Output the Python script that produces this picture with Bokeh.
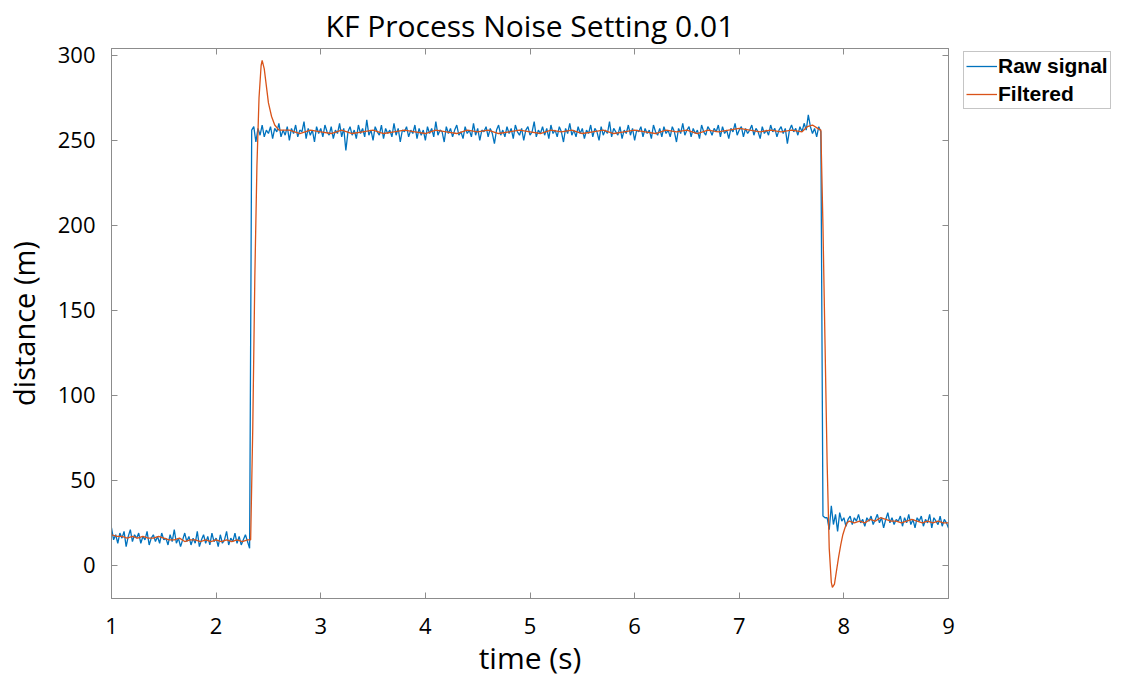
import numpy as np
from bokeh.plotting import figure
from bokeh.models import Range1d, LinearAxis, Legend, LegendItem, FixedTicker
from bokeh.embed import file_html
from bokeh.resources import INLINE

# ---- data ----
title_text = "KF Process Noise Setting 0.01"
x_ticks = [1, 2, 3, 4, 5, 6, 7, 8, 9]
y_ticks = [0, 50, 100, 150, 200, 250, 300]

# raw signal, three segments (low / high / low)
raw_seg1_span = (1.00, 2.32)
raw_seg1 = [22, 15, 18, 13, 19, 16, 20, 11, 17, 21,
            14, 18, 16, 19, 13, 17, 15, 20, 12, 16,
            18, 14, 17, 13, 19, 15, 16, 12, 18, 14,
            21, 13, 16, 11, 15, 19, 14, 17, 12, 16,
            13, 20, 11, 15, 18, 13, 17, 12, 19, 14,
            16, 11, 18, 13, 15, 20, 12, 16, 14, 19,
            13, 17, 12, 15, 18, 14, 10]

raw_seg2_span = (2.34, 7.78)
raw_seg2 = [256, 258, 249, 257, 253, 259, 252, 256, 254, 258, 251, 257, 255, 260, 252, 256, 253, 258, 250, 257,
            254, 259, 252, 256, 255, 261, 251, 257, 253, 256, 249, 258, 254, 257, 252, 259, 255, 253, 258, 251,
            256, 254, 260, 252, 257, 244, 255, 258, 253, 256, 251, 259, 254, 257, 252, 262, 253, 256, 250, 258,
            255, 253, 259, 251, 257, 254, 256, 252, 260, 253, 257, 249, 256, 255, 258, 252, 256, 254, 259, 251,
            257, 253, 256, 250, 258, 254, 257, 252, 261, 253, 256, 255, 249, 258, 254, 257, 252, 256, 259, 253,
            255, 251, 258, 254, 256, 252, 260, 253, 257, 250, 256, 255, 258, 252, 257, 254, 248, 256, 259, 253,
            256, 252, 258, 254, 257, 251, 259, 255, 253, 257, 250, 256, 258, 253, 255, 261, 252, 256, 254, 258,
            253, 257, 251, 259, 254, 256, 252, 258, 255, 249, 257, 254, 260, 253, 256, 252, 258, 254, 257, 251,
            256, 254, 259, 252, 257, 255, 250, 258, 253, 256, 254, 261, 252, 257, 255, 253, 258, 251, 256, 254,
            259, 253, 257, 250, 256, 255, 258, 252, 257, 254, 256, 251, 259, 255, 253, 257, 252, 258, 254, 256,
            252, 258, 255, 249, 257, 254, 260, 253, 256, 258, 252, 257, 254, 256, 251, 259, 255, 253, 258, 256,
            253, 257, 255, 259, 252, 258, 254, 256, 251, 257, 255, 260, 253, 256, 258, 252, 257, 254, 256, 259,
            253, 257, 255, 251, 258, 254, 256, 253, 259, 255, 257, 252, 256, 258, 254, 257, 248, 256, 259, 255,
            257, 253, 258, 255, 260, 256, 265, 258, 254, 257, 252, 258, 255]

raw_seg3_span = (7.80, 9.00)
raw_seg3 = [29, 28, 28, 21, 35, 24, 30, 20, 31, 26,
            28, 23, 27, 29, 24, 28, 26, 30, 25, 27,
            23, 28, 26, 29, 24, 27, 30, 25, 28, 22,
            27, 31, 25, 28, 24, 27, 26, 29, 23, 28,
            25, 30, 24, 27, 22, 28, 26, 29, 23, 27,
            25, 30, 22, 28, 26, 24, 29, 23, 27, 25,
            22]

# filtered (Kalman) output
filt_t = [1.00, 1.05, 1.10, 1.15, 1.20, 1.25, 1.30, 1.35, 1.40, 1.45, 1.50, 1.55, 1.60, 1.65,
          1.70, 1.75, 1.80, 1.85, 1.90, 1.95, 2.00, 2.05, 2.10, 2.15, 2.20, 2.25, 2.30, 2.33,
          2.35, 2.37, 2.39, 2.41, 2.43, 2.44, 2.46, 2.48, 2.50, 2.53, 2.56, 2.60, 2.65,
          2.70, 2.80, 2.90, 3.00, 3.10, 3.20, 3.30, 3.40, 3.50, 3.60, 3.70, 3.80, 3.90,
          4.00, 4.10, 4.20, 4.30, 4.40, 4.50, 4.60, 4.70, 4.80, 4.90, 5.00, 5.10, 5.20,
          5.30, 5.40, 5.50, 5.60, 5.70, 5.80, 5.90, 6.00, 6.10, 6.20, 6.30, 6.40, 6.50,
          6.60, 6.70, 6.80, 6.90, 7.00, 7.10, 7.20, 7.30, 7.40, 7.50, 7.60, 7.65, 7.70,
          7.75, 7.78, 7.80, 7.82, 7.84, 7.86, 7.88, 7.89, 7.91, 7.93, 7.95, 7.97, 7.99,
          8.01, 8.03, 8.05, 8.10, 8.15, 8.20, 8.25, 8.30, 8.35, 8.40, 8.45, 8.50, 8.55,
          8.60, 8.65, 8.70, 8.75, 8.80, 8.85, 8.90, 8.95, 9.00]
filt_y = [18, 17, 17, 16, 17, 16, 17, 16, 16, 17, 16, 15, 15, 16,
          14, 15, 15, 14, 15, 14, 15, 14, 15, 14, 15, 14, 15, 15,
          80, 170, 235, 275, 294, 297, 292, 282, 272, 264, 259, 256, 256,
          256, 254, 256, 255, 254, 256, 254, 255, 256, 254, 255, 256, 255,
          254, 256, 255, 254, 256, 255, 256, 254, 255, 256, 255, 254, 256,
          255, 256, 254, 255, 256, 254, 255, 256, 255, 254, 256, 255, 256,
          254, 256, 255, 256, 257, 256, 255, 256, 255, 256, 255, 258, 259,
          257, 256, 200, 130, 60, 10, -10, -13, -11, -3, 5, 12, 18,
          22, 25, 26, 25, 26, 25, 27, 26, 28, 27, 26, 26, 25,
          26, 27, 26, 25, 26, 25, 26, 25, 25]

# ---- build series ----
raw_t = np.concatenate([np.linspace(*raw_seg1_span, len(raw_seg1)),
                        np.linspace(*raw_seg2_span, len(raw_seg2)),
                        np.linspace(*raw_seg3_span, len(raw_seg3))])
raw_y = np.array(raw_seg1 + raw_seg2 + raw_seg3, dtype=float)

BLUE = "#0072BD"
ORANGE = "#D95319"
FRAME = "#8c8c8c"
FONT = "Open Sans"
FRAME_W, FRAME_H = 837, 550

p = figure(frame_width=FRAME_W, frame_height=FRAME_H, output_backend="svg", toolbar_location=None,
           x_range=Range1d(1, 9), y_range=Range1d(-19.5, 304),
           min_border_left=103, min_border_right=0, min_border_top=48,
           min_border_bottom=0, background_fill_color="white",
           border_fill_color="white")

p.title.text = title_text
p.title.align = "center"
p.title.text_font = FONT
p.title.text_font_size = "30px"
p.title.text_font_style = "normal"
p.title.text_color = "black"
p.title.standoff = 5
p.title.offset = 0

p.grid.visible = False
p.outline_line_color = FRAME
p.outline_line_width = 1

r1 = p.line(raw_t, raw_y, line_color=BLUE, line_width=1.3)
r2 = p.line(filt_t, filt_y, line_color=ORANGE, line_width=1.3)

for ax in (p.xaxis[0], p.yaxis[0]):
    ax.axis_line_color = FRAME
    ax.major_tick_line_color = FRAME
    ax.major_tick_in = 6
    ax.major_tick_out = 0
    ax.minor_tick_line_color = None
    ax.major_label_text_font = FONT
    ax.major_label_text_font_size = "22px"
    ax.major_label_text_color = "black"
    ax.axis_label_text_font = FONT
    ax.axis_label_text_font_style = "normal"
    ax.axis_label_text_color = "black"

p.xaxis[0].axis_label_text_font_size = "30px"
p.yaxis[0].axis_label_text_font_size = "29px"
p.xaxis[0].ticker = FixedTicker(ticks=x_ticks)
p.yaxis[0].ticker = FixedTicker(ticks=y_ticks)
p.xaxis[0].axis_label = "time (s)"
p.yaxis[0].axis_label = "distance (m)"
p.xaxis[0].major_label_standoff = 19
p.yaxis[0].major_label_standoff = 16
p.xaxis[0].axis_label_standoff = 0
p.yaxis[0].axis_label_standoff = 12

# mirrored tick marks on the top edge
top = LinearAxis(ticker=FixedTicker(ticks=x_ticks), major_label_text_font_size="0px",
                 axis_line_color=FRAME, major_tick_line_color=FRAME,
                 major_tick_in=6, major_tick_out=0, minor_tick_line_color=None,
                 major_label_standoff=0)
top.major_label_overrides = {t: "" for t in x_ticks}
p.add_layout(top, "above")

# mirrored tick marks on the right edge: a left-panel axis pinned at x = 9,
# its "out" ticks point left, i.e. into the frame
right = LinearAxis(ticker=FixedTicker(ticks=y_ticks), major_label_text_font_size="0px",
                   axis_line_color=FRAME, major_tick_line_color=FRAME,
                   major_tick_in=0, major_tick_out=6, minor_tick_line_color=None,
                   major_label_standoff=0, fixed_location=9)
right.major_label_overrides = {t: "" for t in y_ticks}
p.add_layout(right, "left")

LEG_H = 56
legend = Legend(items=[LegendItem(label="Raw signal", renderers=[r1]),
                       LegendItem(label="Filtered", renderers=[r2])],
                location=(15, FRAME_H - 5 - LEG_H))
legend.label_text_font = "Liberation Sans"
legend.label_text_font_style = "bold"
legend.label_text_font_size = "21px"
legend.label_text_color = "black"
legend.border_line_color = FRAME
legend.border_line_width = 1
legend.background_fill_alpha = 1
legend.glyph_width = 31
legend.glyph_height = 24
legend.label_standoff = 1
legend.spacing = 4
legend.padding = 2
legend.margin = 0
legend.label_height = 24
p.add_layout(legend, "right")

open("out.html", "w").write(file_html(p, INLINE))
